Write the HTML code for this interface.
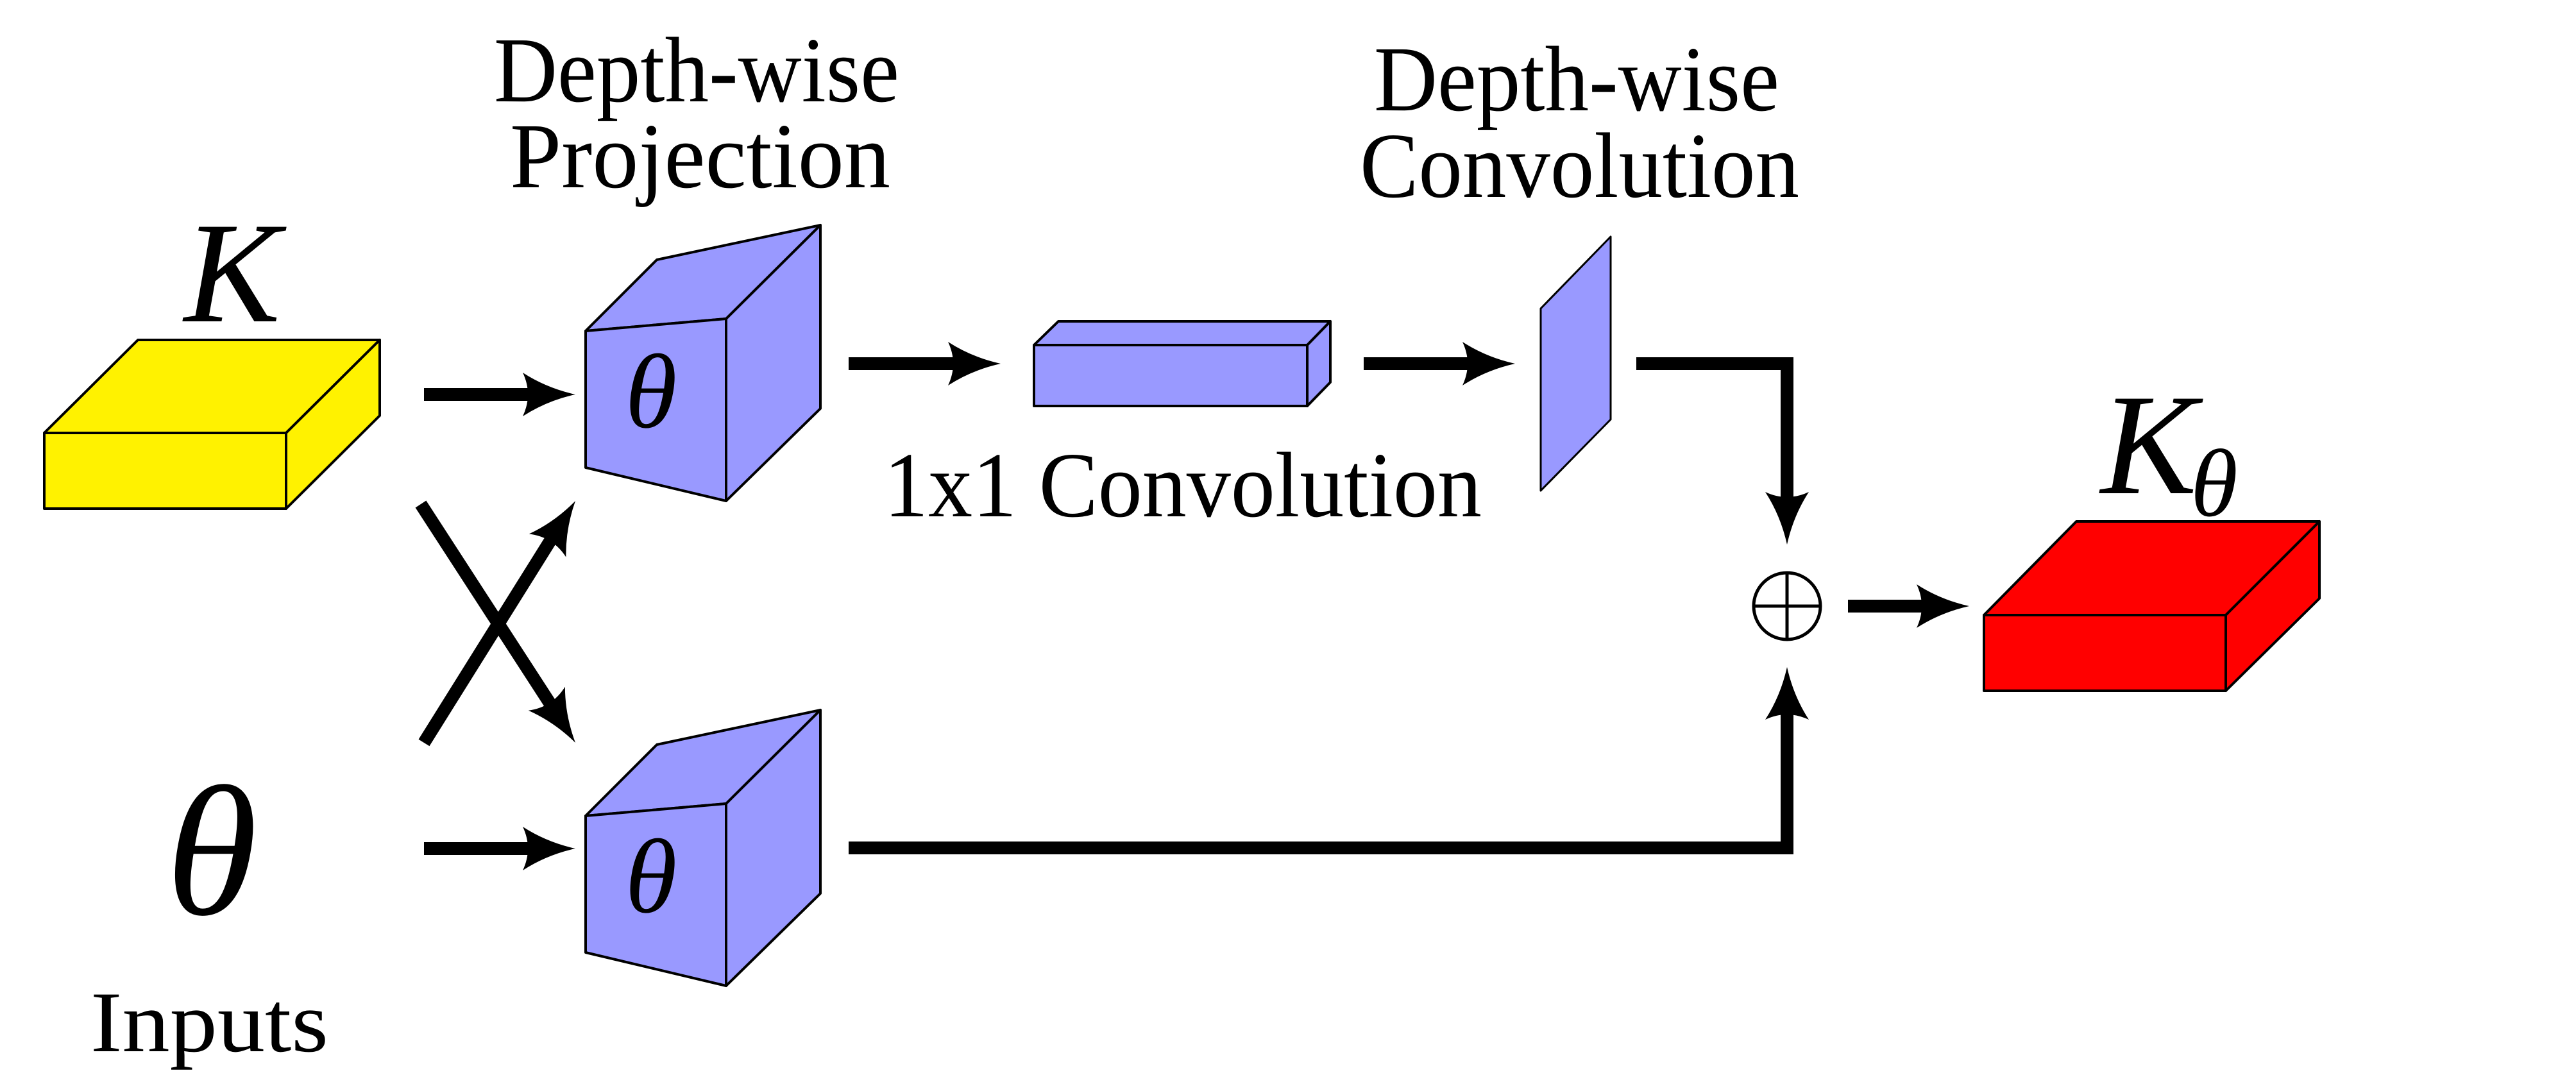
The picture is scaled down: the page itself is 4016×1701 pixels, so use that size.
<!DOCTYPE html>
<html><head><meta charset="utf-8"><style>
html,body{margin:0;padding:0;background:#fff;}
svg{display:block;}
text{font-family:"Liberation Serif",serif;fill:#000;}
</style></head><body>
<svg width="4016" height="1701" viewBox="0 0 4016 1701" xmlns="http://www.w3.org/2000/svg">
<defs>
  <path id="head" d="M0,0 Q-45,-10 -82,-34 Q-66,0 -82,34 Q-45,10 0,0 Z" fill="#000"/>
</defs>
<g stroke="#000" stroke-width="4" stroke-linejoin="round">
  <g fill="#FFF200">
    <polygon points="69,675 215,530 592,530 446,675"/>
    <polygon points="446,675 592,530 592,648 446,793"/>
    <rect x="69" y="675" width="377" height="118"/>
  </g>
  <g fill="#9999FF">
    <polygon points="913,516 1024,405 1279,351 1132,497"/>
    <polygon points="1132,497 1279,351 1279,637 1132,781"/>
    <polygon points="913,516 1132,497 1132,781 913,729"/>
  </g>
  <g fill="#9999FF" transform="translate(0,756)">
    <polygon points="913,516 1024,405 1279,351 1132,497"/>
    <polygon points="1132,497 1279,351 1279,637 1132,781"/>
    <polygon points="913,516 1132,497 1132,781 913,729"/>
  </g>
  <g fill="#9999FF">
    <polygon points="1612,538 1650,501 2074,501 2038,538"/>
    <polygon points="2038,538 2074,501 2074,596 2038,633"/>
    <rect x="1612" y="538" width="426" height="95"/>
  </g>
  <polygon fill="#9999FF" stroke-width="3" points="2402,481 2511,369 2511,654 2402,765"/>
  <g fill="#FF0000">
    <polygon points="3093,959 3237,813 3616,813 3470,959"/>
    <polygon points="3470,959 3616,813 3616,933 3470,1077"/>
    <rect x="3093" y="959" width="377" height="118"/>
  </g>
</g>

<g stroke="#000" stroke-width="20" fill="none" stroke-linejoin="miter">
  <line x1="661" y1="615" x2="840" y2="615"/>
  <line x1="661" y1="1323" x2="840" y2="1323"/>
  <line x1="656" y1="786" x2="866" y2="1110"/>
  <line x1="661" y1="1158" x2="866" y2="830"/>
  <line x1="1323" y1="567" x2="1500" y2="567"/>
  <line x1="2126" y1="567" x2="2300" y2="567"/>
  <polyline points="2551,567 2786,567 2786,790"/>
  <polyline points="1323,1322 2786,1322 2786,1100"/>
  <line x1="2881" y1="945" x2="3010" y2="945"/>
</g>
<g>
  <use href="#head" transform="translate(897,615)"/>
  <use href="#head" transform="translate(897,1323)"/>
  <use href="#head" transform="translate(897,1158) rotate(57)"/>
  <use href="#head" transform="translate(897,781) rotate(-58)"/>
  <use href="#head" transform="translate(1560,567)"/>
  <use href="#head" transform="translate(2362,567)"/>
  <use href="#head" transform="translate(2786,849) rotate(90)"/>
  <use href="#head" transform="translate(2786,1040) rotate(-90)"/>
  <use href="#head" transform="translate(3070,945)"/>
</g>
<g stroke="#000" stroke-width="5" fill="none">
  <circle cx="2786" cy="945" r="52"/>
  <line x1="2734" y1="945" x2="2838" y2="945"/>
  <line x1="2786" y1="893" x2="2786" y2="997"/>
</g>

<text x="362" y="501" font-size="225" font-style="italic" text-anchor="middle">K</text>
<text x="330" y="1425" font-size="290" font-style="italic" text-anchor="middle">θ</text>
<text x="141" y="1639" font-size="135" textLength="371" lengthAdjust="spacingAndGlyphs">Inputs</text>
<text x="1015" y="666" font-size="165" font-style="italic" text-anchor="middle">θ</text>
<text x="1015" y="1422" font-size="165" font-style="italic" text-anchor="middle">θ</text>
<text x="770" y="158" font-size="145" textLength="632" lengthAdjust="spacingAndGlyphs">Depth-wise</text>
<text x="795" y="292" font-size="145" textLength="593" lengthAdjust="spacingAndGlyphs">Projection</text>
<text x="2142" y="172" font-size="145" textLength="632" lengthAdjust="spacingAndGlyphs">Depth-wise</text>
<text x="2120" y="307" font-size="145" textLength="685" lengthAdjust="spacingAndGlyphs">Convolution</text>
<text x="1378" y="805" font-size="145" textLength="932" lengthAdjust="spacingAndGlyphs">1x1 Convolution</text>
<text x="3275" y="769" font-size="225" font-style="italic">K<tspan font-size="150" dy="35" dx="-10">θ</tspan></text>
</svg>
</body></html>
